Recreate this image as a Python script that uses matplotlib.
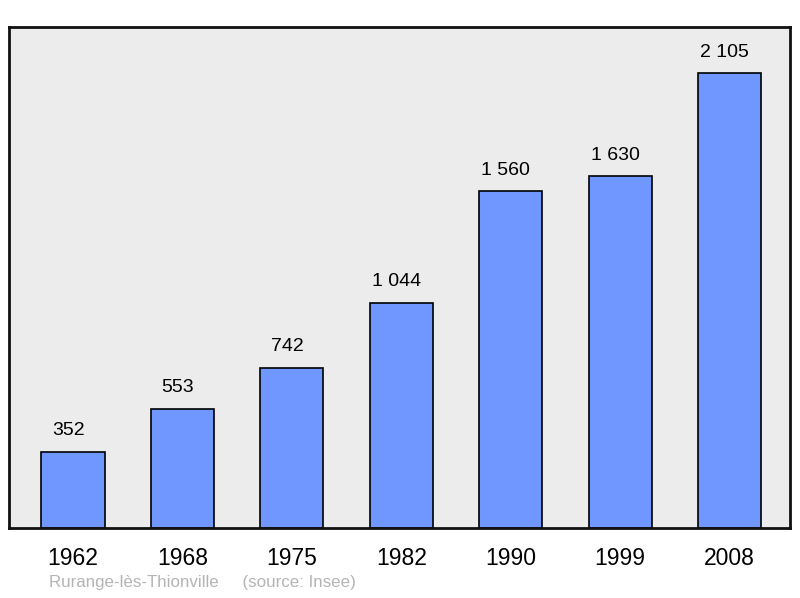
import matplotlib.pyplot as plt

# Population data
years = ["1962", "1968", "1975", "1982", "1990", "1999", "2008"]
population = [352, 553, 742, 1044, 1560, 1630, 2105]
labels = ["352", "553", "742", "1 044", "1 560", "1 630", "2 105"]

plt.rcParams['font.family'] = ['Liberation Sans', 'DejaVu Sans']

fig = plt.figure(figsize=(8, 5.98), dpi=100)
ax = fig.add_axes([9 / 800, 1 - 528 / 598, 781 / 800, 501 / 598])
ax.set_facecolor('#ececec')

x = range(len(years))
ax.bar(x, population, width=0.576, color='#7096ff', edgecolor='black', linewidth=1.2, zorder=2)

# value labels sit a bit left of the bar centre, like the original
for xi, v, lab in zip(x, population, labels):
    ax.annotate(lab, (xi, v), xytext=(-3.5, 9), textcoords='offset points',
                ha='center', va='bottom', fontsize=14)

ax.set_xlim(-0.585, 6.553)
ax.set_ylim(0, 2320)
ax.set_xticks(list(x))
ax.set_xticklabels(years, fontsize=16.5)
ax.tick_params(axis='x', length=0, pad=14)
ax.set_yticks([])
for s in ax.spines.values():
    s.set_linewidth(2)
    s.set_color('#111111')

fig.text(49 / 800, 1 - 583 / 598, "Rurange-lès-Thionville     (source: Insee)",
         color='#b4b4b4', fontsize=12.2, va='center', ha='left')

fig.savefig("out.png", dpi=100)
